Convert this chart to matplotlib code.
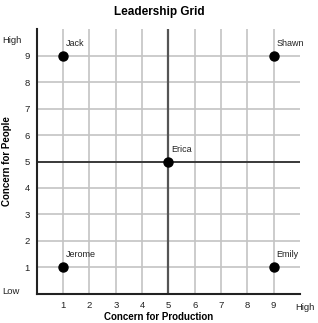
import matplotlib
matplotlib.use('Agg')
import matplotlib.pyplot as plt

# people on the grid
names = ['Jack', 'Shawn', 'Erica', 'Jerome', 'Emily']
production = [1, 9, 5, 1, 9]
people = [9, 9, 5, 1, 1]
ticks = [1, 2, 3, 4, 5, 6, 7, 8, 9]

plt.rcParams['font.family'] = ['Liberation Sans', 'DejaVu Sans']

fig = plt.figure(figsize=(3.18, 3.23), dpi=100)
ax = fig.add_axes([0.116, 0.091, 0.827, 0.818])
ax.set_xlim(0, 10)
ax.set_ylim(0, 10)

# grid lines
for t in ticks:
    ax.axvline(t, color='#c4c4c4', lw=1.2, zorder=1)
    ax.axhline(t, color='#c4c4c4', lw=1.2, zorder=1)
ax.axvline(5, color='#555555', lw=1.6, zorder=2)
ax.axhline(5, color='#222222', lw=1.2, zorder=2)

ax.plot(production, people, 'o', color='black', ms=6.5, zorder=3)
for n, x, y in zip(names, production, people):
    ax.annotate(n, (x, y), xytext=(2, 7), textcoords='offset points',
                fontsize=6.5, color='#222222')

ax.set_xticks(ticks)
ax.set_yticks(ticks)
ax.tick_params(length=0, labelsize=6.8, colors='#222222', pad=5)
for s in ['top', 'right']:
    ax.spines[s].set_visible(False)
for s in ['left', 'bottom']:
    ax.spines[s].set_linewidth(1.5)
    ax.spines[s].set_color('#222222')

fig.text(0.006, 0.875, 'High', fontsize=6.8, color='#222222', va='center')
fig.text(0.006, 0.097, 'Low', fontsize=6.8, color='#222222', va='center')
fig.text(0.93, 0.049, 'High', fontsize=6.8, color='#222222', va='center')

fig.text(0.5, 0.963, 'Leadership Grid', fontsize=8.5, fontweight='bold',
         ha='center', va='center')
fig.text(0.5, 0.003, 'Concern for Production', fontsize=7, fontweight='bold',
         ha='center', va='bottom')
fig.text(0.022, 0.5, 'Concern for People', fontsize=7, fontweight='bold',
         ha='center', va='center', rotation=90)

fig.savefig('out.png', dpi=100)
